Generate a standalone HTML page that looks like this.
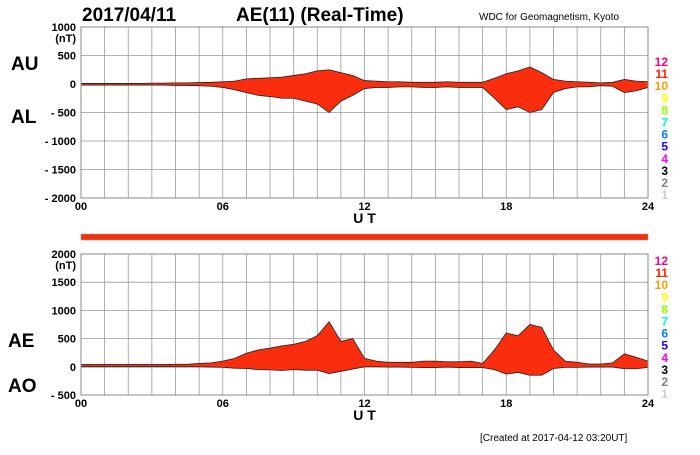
<!DOCTYPE html>
<html><head><meta charset="utf-8"><style>
body{margin:0;background:#fff;width:700px;height:450px;overflow:hidden;font-family:"Liberation Sans",sans-serif;}
svg text{font-family:"Liberation Sans",sans-serif;font-weight:bold;}
</style></head><body>
<svg id="c" width="700" height="450" xmlns="http://www.w3.org/2000/svg">
<text x="82" y="21" font-size="19">2017/04/11</text>
<text x="236" y="21" font-size="19">AE(11) (Real-Time)</text>
<text x="479" y="20" font-size="10" style="font-weight:normal">WDC for Geomagnetism, Kyoto</text>
<text x="11" y="70" font-size="19">AU</text>
<text x="11" y="123" font-size="19">AL</text>
<text x="8" y="347" font-size="19">AE</text>
<text x="8" y="392" font-size="19">AO</text>
<rect x="81" y="234" width="567" height="6" fill="#f5300f" stroke="#999" stroke-width="0.6"/>
<text x="480" y="441" font-size="10" style="font-weight:normal">[Created at 2017-04-12 03:20UT]</text>
</svg>
<script>
const hours=[0,6,12,18,24];
const hourLabels=["00","06","12","18","24"];
const topTicks=[1000,500,0,-500,-1000,-1500,-2000];
const topTickLabels=["1000","500","0","- 500","- 1000","- 1500","- 2000"];
const botTicks=[2000,1500,1000,500,0,-500];
const botTickLabels=["2000","1500","1000","500","0","- 500"];
const legendNums=["12","11","10","9","8","7","6","5","4","3","2","1"];
const legendColors=["#ff0080","#ff2000","#ff9900","#ffff00","#99ff00","#00ffcc","#0080ff","#2000ff","#ff00ff","#000000","#808080","#cccccc"];
const AU=[10,10,10,10,10,10,15,15,20,20,25,30,40,50,90,100,110,120,150,180,230,250,200,150,60,50,40,40,30,30,30,40,30,30,30,100,180,230,300,200,80,50,40,30,20,30,80,50,40];
const AL=[-20,-20,-20,-20,-20,-20,-20,-20,-25,-25,-30,-40,-60,-100,-150,-200,-220,-250,-250,-300,-350,-500,-300,-200,-80,-60,-60,-50,-50,-60,-60,-50,-60,-60,-60,-250,-450,-400,-500,-450,-150,-80,-50,-50,-30,-40,-150,-120,-60];
const AE=[40,40,40,40,40,40,40,40,45,45,60,70,100,150,240,300,330,370,400,450,550,800,450,500,150,100,80,80,80,100,100,90,90,100,60,300,600,550,750,700,300,100,80,50,50,70,230,170,100];
const AO=[0,0,0,0,0,0,0,0,0,0,0,-5,-10,-25,-30,-50,-55,-65,-50,-60,-60,-120,-80,-40,0,0,-5,-5,-10,-15,-15,-5,-15,-15,-15,-50,-130,-100,-150,-150,-30,-10,-10,-5,-5,-5,-35,-35,-10];
const svg=document.getElementById('c');
const NS="http://www.w3.org/2000/svg";
const X0=81,X1=648;
const x=h=>X0+(X1-X0)*h/24;
function mk(tag,attrs,parent){const e=document.createElementNS(NS,tag);for(const k in attrs)e.setAttribute(k,attrs[k]);(parent||svg).appendChild(e);return e;}
function panel(name,yTop,yBot,vTop,vBot,ticks,labels,upper,lower,legY0){
  const y=v=>yTop+(yBot-yTop)*(vTop-v)/(vTop-vBot);
  const g=mk('g',{});
  
  
  for(let h=0;h<=24;h++){const l=mk('line',{x1:x(h),x2:x(h),y1:yTop,y2:yBot,stroke:'#999','stroke-width':0.8},g);
    
    }
  ticks.forEach((t,i)=>{const l=mk('line',{x1:X0,x2:X1,y1:y(t),y2:y(t),stroke:'#999','stroke-width':0.8},g);
    
    
    const tx=mk('text',{x:76,y:y(t)+4,'font-size':11,'text-anchor':'end'},g);tx.textContent=labels[i];
    
    });
  const u=mk('text',{x:76,y:y(ticks[0])+15,'font-size':11,'text-anchor':'end'},g);u.textContent='(nT)';
  
  
  const n=upper.length;let d='';
  for(let i=0;i<n;i++)d+=(i?'L':'M')+x(i*24/(n-1))+','+y(upper[i]);
  for(let i=n-1;i>=0;i--)d+='L'+x(i*24/(n-1))+','+y(lower[i]);
  const p=mk('path',{d:d+'Z',fill:'#fa2e0f',stroke:'#222','stroke-width':0.8},g);
  
  
  const fr=mk('rect',{x:X0,y:yTop,width:X1-X0,height:yBot-yTop,fill:'none',stroke:'#888','stroke-width':1},g);
  
  
  hours.forEach((h,i)=>{const t=mk('text',{x:x(h),y:yBot+12,'font-size':11,'text-anchor':'middle'},g);t.textContent=hourLabels[i];
    
    });
  const ut=mk('text',{x:x(12),y:yBot+25,'font-size':14,'text-anchor':'middle'},g);ut.textContent='U T';
  
  
  legendNums.forEach((s,i)=>{const t=mk('text',{x:668,y:legY0+i*12.1,'font-size':12,'text-anchor':'end',fill:legendColors[i]},g);t.textContent=s;
    
    });
}
panel('au-al',27,198,1000,-2000,topTicks,topTickLabels,AU,AL,66);
panel('ae-ao',254,395,2000,-500,botTicks,botTickLabels,AE,AO,265);
</script>
</body></html>
